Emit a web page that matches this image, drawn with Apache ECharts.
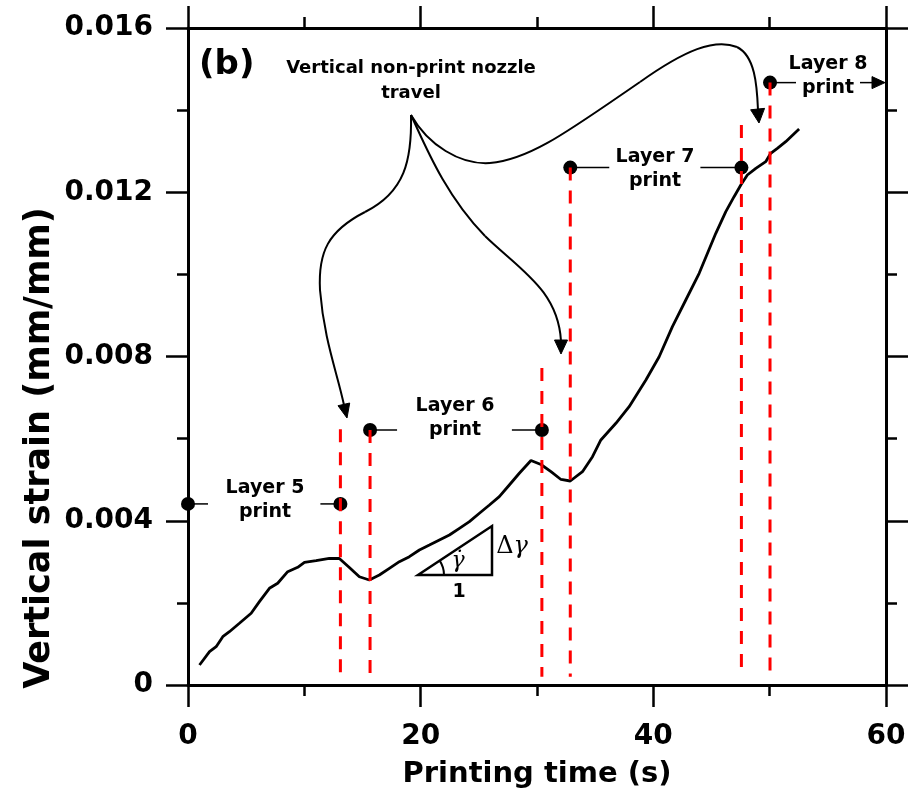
<!DOCTYPE html>
<html>
<head>
<meta charset="utf-8">
<script src="https://cdn.jsdelivr.net/npm/echarts@6/dist/echarts.min.js"></script>
<style>
  html, body { margin: 0; padding: 0; background: #fff; }
  #chart { width: 909px; height: 795px; }
</style>
</head>
<body>
<div id="chart"></div>
<script>
// Strain record (printing time in s, vertical strain in mm/mm)
const timeS = [0.99, 1.85, 2.42, 2.99, 3.56, 4.42, 5.43, 6.14, 7.00, 7.71,
  8.57, 9.43, 10.01, 11.01, 12.15, 13.01, 13.87, 14.73, 15.59, 16.45,
  17.31, 18.17, 19.03, 19.89, 20.75, 21.61, 22.47, 23.33, 24.19, 25.05,
  25.91, 26.76, 27.62, 28.48, 29.48, 30.34, 31.20, 32.06, 32.86, 33.91,
  34.77, 35.49, 36.78, 37.92, 39.36, 40.50, 41.64, 42.79, 43.94, 45.37,
  46.23, 46.94, 47.52, 48.08, 48.81, 49.66, 50.09, 50.66, 51.38, 52.53];
const strain = [0.000487, 0.000811, 0.000933, 0.001176, 0.001298, 0.001503, 0.001746, 0.002029, 0.002355, 0.002477,
  0.002759, 0.002866, 0.002988, 0.003027, 0.003086, 0.003081, 0.002862, 0.002637, 0.002557, 0.002679,
  0.002842, 0.003003, 0.003125, 0.003288, 0.003409, 0.003531, 0.003653, 0.003816, 0.003977, 0.004182,
  0.004384, 0.004586, 0.004871, 0.005156, 0.005468, 0.005370, 0.005195, 0.005005, 0.004968, 0.005195,
  0.005560, 0.005967, 0.006373, 0.006778, 0.007428, 0.007995, 0.008726, 0.009376, 0.010026, 0.011000,
  0.011527, 0.011892, 0.012177, 0.012420, 0.012583, 0.012744, 0.012949, 0.013070, 0.013231, 0.013540];

// Print phases of each layer
const layerNames = ['Layer 5', 'Layer 6', 'Layer 7', 'Layer 8'];
const layerStart = [0, 15.65, 32.86, 50.03];
const layerEnd = [13.10, 30.42, 47.57, null];
const layerLevel = [0.00441, 0.00621, 0.0126, 0.01467];

// Phase boundaries (red dashed markers)
const boundaryTime = [13.10, 15.65, 30.42, 32.86, 47.57, 50.03];
const boundaryTop = [0.00623, 0.00621, 0.00772, 0.0126, 0.01364, 0.01467];
const boundaryBottom = 0.0002;

// Axis tick labels
const xTickLabels = ['0', '20', '40', '60'];
const yTickLabels = ['0', '0.004', '0.008', '0.012', '0.016'];

const FONT = 'DejaVu Sans';
const BLACK = '#000';

const chart = echarts.init(document.getElementById('chart'));

function axisBase(extra) {
  return Object.assign({
    type: 'value',
    min: 0,
    axisLine: { show: true, onZero: false, lineStyle: { color: BLACK, width: 3 } },
    axisTick: { show: true, inside: false, length: 22, lineStyle: { color: BLACK, width: 2.5 } },
    minorTick: { show: true, splitNumber: 2, length: 11, lineStyle: { color: BLACK, width: 2.5 } },
    splitLine: { show: false },
    minorSplitLine: { show: false }
  }, extra);
}

const tickLabelStyle = {
  color: BLACK, fontFamily: FONT, fontWeight: 'bold', fontSize: 28,
  showMinLabel: true, showMaxLabel: true
};

const series = [];

// strain curve
series.push({
  type: 'line',
  data: timeS.map((t, i) => [t, strain[i]]),
  showSymbol: false,
  symbol: 'none',
  smooth: false,
  clip: false,
  lineStyle: { color: BLACK, width: 2.8 },
  z: 3,
  silent: true
});

// start / end markers of each layer print
const dots = [];
layerStart.forEach((t, i) => {
  dots.push([t, layerLevel[i]]);
  if (layerEnd[i] !== null) dots.push([layerEnd[i], layerLevel[i]]);
});
series.push({
  type: 'scatter',
  data: dots,
  symbol: 'circle',
  symbolSize: 14,
  clip: false,
  itemStyle: { color: BLACK, opacity: 1 },
  z: 4,
  silent: true
});

// red dashed boundaries
boundaryTime.forEach((t, i) => {
  series.push({
    type: 'line',
    data: [[t, boundaryTop[i]], [t, boundaryBottom]],
    symbol: 'none',
    clip: false,
    lineStyle: { color: '#ff0000', width: 3, type: [13, 10] },
    z: 6,
    silent: true
  });
});

const option = {
  animation: false,
  backgroundColor: '#fff',
  grid: { left: 188, top: 28, width: 698, height: 657, containLabel: false, outerBoundsMode: 'none' },
  xAxis: [
    axisBase({
      position: 'bottom', max: 60, interval: 20,
      axisLabel: Object.assign({ show: true, margin: 38,
        formatter: (v, idx) => xTickLabels[idx] }, tickLabelStyle),
      name: 'Printing time (s)',
      nameLocation: 'middle',
      nameGap: 75,
      nameTextStyle: { color: BLACK, fontFamily: FONT, fontWeight: 'bold', fontSize: 29 }
    }),
    axisBase({ position: 'top', max: 60, interval: 20, axisLabel: { show: false } })
  ],
  yAxis: [
    axisBase({
      position: 'left', max: 0.016, interval: 0.004,
      axisLabel: Object.assign({ show: true, margin: 35,
        formatter: (v, idx) => yTickLabels[idx] }, tickLabelStyle)
    }),
    axisBase({ position: 'right', max: 0.016, interval: 0.004, axisLabel: { show: false } })
  ],
  series: series
};

chart.setOption(option);

// ---- annotations ----
const px = (t, v) => chart.convertToPixel({ xAxisIndex: 0, yAxisIndex: 0 }, [t, v]);

const thinLine = (x1, y1, x2, y2, w) => ({
  type: 'line', silent: true, z: 2,
  shape: { x1, y1, x2, y2 },
  style: { stroke: BLACK, lineWidth: w || 1.5 }
});

const curve = (p0, c1, c2, p3) => ({
  type: 'bezierCurve', silent: true, z: 2,
  shape: { x1: p0[0], y1: p0[1], cpx1: c1[0], cpy1: c1[1], cpx2: c2[0], cpy2: c2[1], x2: p3[0], y2: p3[1] },
  style: { stroke: BLACK, lineWidth: 2, fill: null }
});

function arrowHead(tip, dir, len, half) {
  const n = Math.hypot(dir[0], dir[1]);
  const d = [dir[0] / n, dir[1] / n];
  const b = [tip[0] - d[0] * len, tip[1] - d[1] * len];
  const perp = [-d[1], d[0]];
  return {
    type: 'polygon', silent: true, z: 2,
    shape: { points: [tip, [b[0] + perp[0] * half, b[1] + perp[1] * half], [b[0] - perp[0] * half, b[1] - perp[1] * half]] },
    style: { fill: BLACK, stroke: BLACK, lineWidth: 1 }
  };
}

const label = (x, y, text, size, extra) => ({
  type: 'text', silent: true, z: 7, x, y,
  style: Object.assign({
    text, fill: BLACK, fontFamily: FONT, fontWeight: 'bold', fontSize: size,
    align: 'center', verticalAlign: 'middle'
  }, extra || {})
});

const g = [];

// leader ticks from the markers toward the phase labels
const leadStart = [20, 27, 39, 26];
const leadEnd = [20, 30, 41, 0];
layerStart.forEach((t, i) => {
  const p = px(t, layerLevel[i]);
  g.push(thinLine(p[0], p[1], p[0] + leadStart[i], p[1]));
  if (layerEnd[i] !== null) {
    const q = px(layerEnd[i], layerLevel[i]);
    g.push(thinLine(q[0] - leadEnd[i], q[1], q[0], q[1]));
  }
});

// phase labels
const labelPos = [[265, 500], [455, 418], [655, 169], [828, 76]];
layerNames.forEach((name, i) => {
  g.push(label(labelPos[i][0], labelPos[i][1], name + '\nprint', 19, { lineHeight: 24 }));
});

// layer 8 continues past the right edge
const l8 = px(60, layerLevel[3]);
g.push(thinLine(860, l8[1], l8[0] - 12, l8[1]));
g.push(arrowHead([l8[0] - 1, l8[1]], [1, 0], 13, 6));

// non-print travel callout
g.push(label(411, 80.5, 'Vertical non-print nozzle\ntravel', 18, { lineHeight: 25 }));
// to the first travel gap
g.push(curve([411, 115], [412, 160], [405, 192], [365, 212]));
g.push(curve([365, 212], [328, 231], [318, 252], [320, 290]));
g.push(curve([320, 290], [324, 340], [337, 372], [344, 405]));
g.push(arrowHead([347, 418], [3, 13], 14, 6));
// to the second travel gap
g.push(curve([411, 115], [425, 145], [445, 195], [485, 236]));
g.push(curve([485, 236], [520, 270], [558, 290], [561, 341]));
g.push(arrowHead([561, 354], [0, 1], 14, 6.5));
// to the third travel gap
g.push(curve([411, 115], [428, 145], [460, 165], [490, 163]));
g.push(curve([490, 163], [530, 160], [570, 130], [640, 82]));
g.push(curve([640, 82], [685, 50], [715, 38], [737, 47]));
g.push(curve([737, 47], [755, 56], [757, 85], [758, 110]));
g.push(arrowHead([759, 123], [0.1, 1], 14, 7));

// strain-rate triangle
g.push({
  type: 'polygon', silent: true, z: 2,
  shape: { points: [[418, 575], [492, 575], [492, 526]] },
  style: { fill: null, stroke: BLACK, lineWidth: 2.5 }
});
g.push({
  type: 'arc', silent: true, z: 2,
  shape: { cx: 418, cy: 575, r: 26, startAngle: -Math.atan2(49, 74), endAngle: 0, clockwise: true },
  style: { fill: null, stroke: BLACK, lineWidth: 2 }
});
g.push(label(459, 592, '1', 19));
g.push(label(512, 547, '{a|Δ}{b|γ}', 24, {
  rich: {
    a: { fontFamily: 'DejaVu Serif', fontSize: 24, fill: BLACK },
    b: { fontFamily: 'DejaVu Serif', fontStyle: 'italic', fontSize: 24, fill: BLACK }
  }
}));
g.push(label(458, 561, 'γ\u0307', 22, { fontFamily: 'DejaVu Serif', fontStyle: 'italic', fontWeight: 'normal' }));

// panel tag and vertical axis title
g.push(label(199, 65, '(b)', 34, { align: 'left' }));
g.push(label(40, 448, 'Vertical strain (mm/mm)', 35, {}));
g[g.length - 1].rotation = Math.PI / 2;

chart.setOption({ graphic: { elements: g } });
</script>
</body>
</html>
